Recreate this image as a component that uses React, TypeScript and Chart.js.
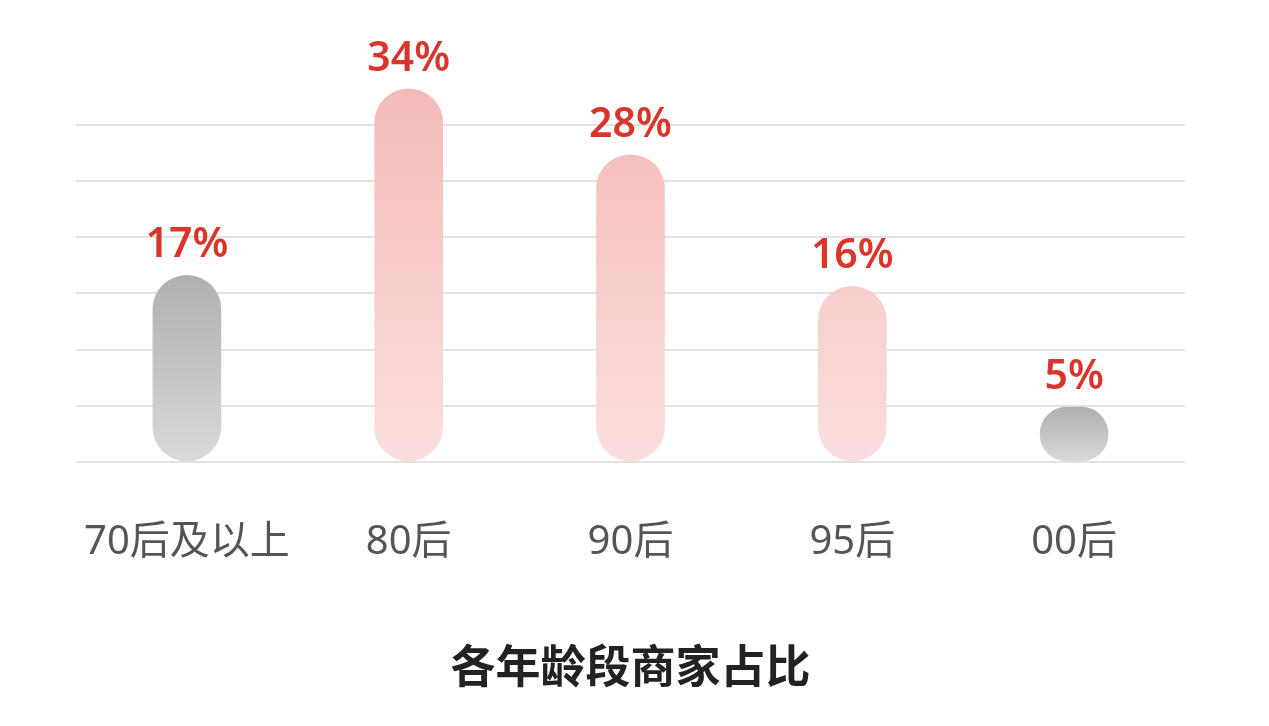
import React, { useEffect, useRef } from "react";
import { Chart, registerables } from "chart.js";

Chart.register(...registerables);

const categories = ["70后及以上", "80后", "90后", "95后", "00后"];
const shares = [17, 34, 28, 16, 5];
const shareLabels = ["17%", "34%", "28%", "16%", "5%"];
const highlighted = [false, true, true, true, false];
const gridValues = [0, 5.12, 10.24, 15.36, 20.48, 25.6, 30.72];
const titleText = "各年龄段商家占比";

const FONT = '"Noto Sans", "Noto Sans CJK SC", sans-serif';
const CJK = '"Noto Sans CJK SC", "Noto Sans", sans-serif';

const valueLabelPlugin = {
  id: "valueLabels",
  afterDatasetsDraw(chart: any) {
    const ctx = chart.ctx;
    const meta = chart.getDatasetMeta(0);
    ctx.save();
    ctx.font = `600 41px ${FONT}`;
    ctx.fillStyle = "#d8362b";
    ctx.textAlign = "center";
    ctx.textBaseline = "alphabetic";
    meta.data.forEach((bar: any, i: number) => {
      ctx.fillText(shareLabels[i], bar.x, bar.y - 18);
    });
    ctx.restore();
  },
};

export default function App() {
  const ref = useRef<HTMLCanvasElement | null>(null);

  useEffect(() => {
    document.body.style.margin = "0";
    if (!ref.current) return;
    const chart = new Chart(ref.current, {
      type: "bar",
      data: {
        labels: categories,
        datasets: [
          {
            data: shares,
            barThickness: 68,
            borderRadius: 34,
            borderSkipped: false,
            backgroundColor: (c: any) => {
              const ch = c.chart;
              const y = ch.scales?.y;
              if (!ch.chartArea || !y || c.dataIndex === undefined) return "#cccccc";
              const base = y.getPixelForValue(0);
              if (highlighted[c.dataIndex]) {
                const top = y.getPixelForValue(Math.max(...shares));
                const g = ch.ctx.createLinearGradient(0, top, 0, base);
                g.addColorStop(0, "#f4bab8");
                g.addColorStop(1, "#fadfde");
                return g;
              }
              const top = y.getPixelForValue(shares[c.dataIndex]);
              const g = ch.ctx.createLinearGradient(0, top, 0, base);
              g.addColorStop(0, "#b0b0b0");
              g.addColorStop(1, "#d9d9d9");
              return g;
            },
          },
        ],
      },
      options: {
        animation: false,
        responsive: true,
        maintainAspectRatio: false,
        layout: { padding: { top: 45, left: 76, right: 84, bottom: 0 } },
        plugins: {
          legend: { display: false },
          tooltip: { enabled: false },
          title: {
            display: true,
            text: titleText,
            position: "bottom",
            color: "#222222",
            font: { family: CJK, size: 45, weight: "bold" },
            padding: { top: 23, bottom: 33 },
          },
        },
        scales: {
          x: {
            grid: { display: false },
            border: { display: false },
            ticks: {
              color: "#555555",
              font: { family: FONT, size: 40 },
              padding: 49,
              maxRotation: 0,
              autoSkip: false,
            },
          },
          y: {
            min: 0,
            max: 38,
            grid: { color: "#e2e2e2", lineWidth: 2, drawTicks: false },
            border: { display: false },
            ticks: { display: false },
            afterBuildTicks: (axis: any) => {
              axis.ticks = gridValues.map((v) => ({ value: v }));
            },
          },
        },
      },
      plugins: [valueLabelPlugin],
    });
    return () => chart.destroy();
  }, []);

  return (
    <div style={{ width: 1269, height: 726, position: "relative" }}>
      <canvas ref={ref} />
    </div>
  );
}
